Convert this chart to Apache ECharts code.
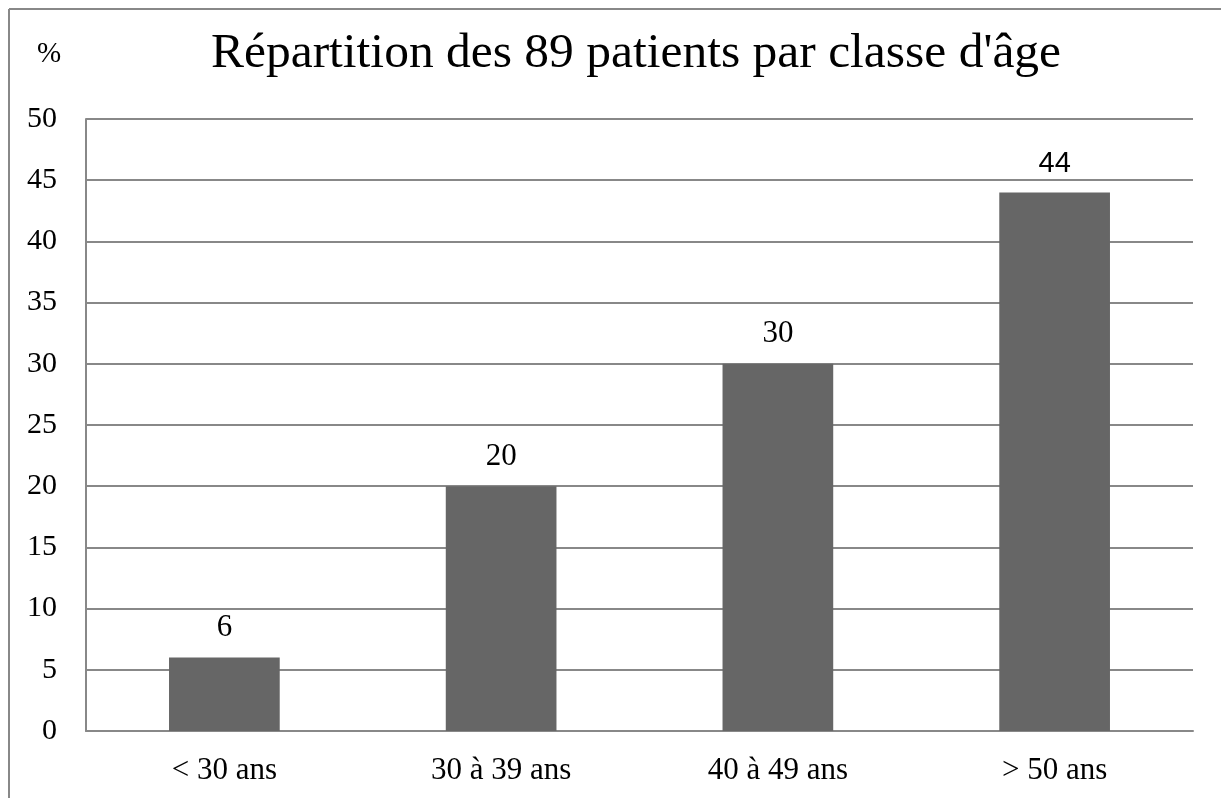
<!DOCTYPE html>
<html>
<head>
<meta charset="utf-8">
<script src="https://cdn.jsdelivr.net/npm/echarts@6/dist/echarts.min.js"></script>
<style>
  html, body { margin: 0; padding: 0; background: #fff; }
  #chart { width: 1221px; height: 798px; }
</style>
</head>
<body>
<div id="chart"></div>
<script>
var categories = ['< 30 ans', '30 à 39 ans', '40 à 49 ans', '> 50 ans'];
var values = [6, 20, 30, 44];

var serif = '"Liberation Serif", "Times New Roman", serif';
var sans = '"Liberation Sans", Arial, sans-serif';

// le dernier libellé est en sans-serif dans l'original
var barData = values.map(function (v, i) {
    return {
        value: v,
        label: { fontFamily: i === values.length - 1 ? sans : serif, fontSize: i === values.length - 1 ? 29 : 31 }
    };
});

var myChart = echarts.init(document.getElementById('chart'), null, { renderer: 'canvas' });
var option = {
    backgroundColor: '#fff',
    animation: false,
    title: {
        text: "Répartition des 89 patients par classe d'âge",
        left: 631,
        textAlign: 'center',
        top: 24,
        textStyle: { fontFamily: serif, fontSize: 49.5, fontWeight: 'normal', color: '#000' }
    },
    graphic: [
        // cadre (haut + gauche)
        { type: 'line', shape: { x1: 9, y1: 9, x2: 1221, y2: 9 }, style: { stroke: '#888', lineWidth: 2 } },
        { type: 'line', shape: { x1: 9, y1: 9, x2: 9, y2: 798 }, style: { stroke: '#888', lineWidth: 2 } },
        { type: 'text', left: 37, top: 40, style: { text: '%', font: '29px ' + serif, fill: '#000' } }
    ],
    grid: { left: 86, right: 28, top: 119, bottom: 67 },
    xAxis: {
        type: 'category',
        data: categories,
        axisLine: { lineStyle: { color: '#888', width: 2 } },
        axisTick: { show: false },
        axisLabel: { margin: 24, fontFamily: serif, fontSize: 31, color: '#000' }
    },
    yAxis: {
        type: 'value',
        min: 0,
        max: 50,
        interval: 5,
        axisLine: { show: true, lineStyle: { color: '#888', width: 2 } },
        axisTick: { show: false },
        splitLine: { lineStyle: { color: '#888', width: 2 } },
        axisLabel: { margin: 29, fontFamily: serif, fontSize: 30, color: '#000' }
    },
    series: [{
        type: 'bar',
        data: barData,
        barWidth: '40%',
        itemStyle: { color: '#666666' },
        label: {
            show: true,
            position: 'top',
            distance: 14,
            color: '#000'
        }
    }]
};
myChart.setOption(option);
</script>
</body>
</html>
